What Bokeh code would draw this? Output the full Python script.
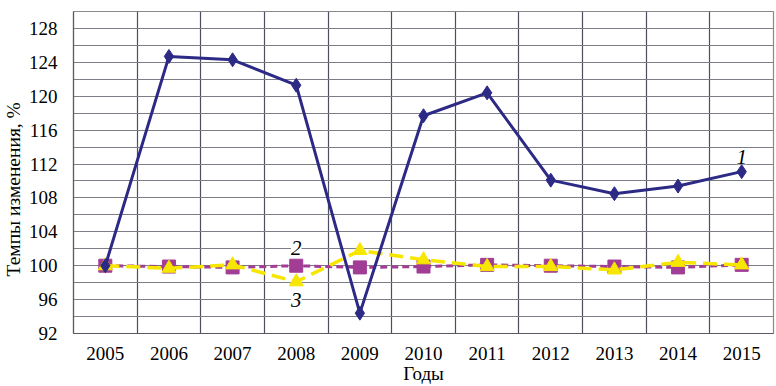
from bokeh.plotting import figure
from bokeh.models import FixedTicker, Label, ColumnDataSource, Title
from bokeh.embed import file_html
from bokeh.resources import INLINE

years = ["2005", "2006", "2007", "2008", "2009", "2010", "2011", "2012", "2013", "2014", "2015"]
series1 = [100.0, 124.7, 124.3, 121.3, 94.4, 117.7, 120.4, 110.1, 108.5, 109.4, 111.1]
series2 = [100.0, 99.9, 99.8, 100.0, 99.8, 99.9, 100.1, 100.0, 99.9, 99.8, 100.1]
series3 = [100.0, 99.7, 100.1, 98.1, 101.8, 100.7, 99.9, 99.9, 99.5, 100.4, 100.1]
y_ticks = [92, 96, 100, 104, 108, 112, 116, 120, 124, 128]
y_grid = list(range(92, 131, 2))
series_labels = ["1", "2", "3"]
label_years = ["2015", "2008", "2008"]
label_values = [112.8, 102.1, 96.0]
x_title = "Годы"
y_title = "Темпы изменения, %"

FONT = "Liberation Serif"
xs = list(range(len(years)))

p = figure(width=776, height=386, output_backend="svg", toolbar_location=None,
           x_range=(-0.5, len(years) - 0.5), y_range=(92, 130),
           min_border_left=68, min_border_right=3, min_border_top=11, min_border_bottom=52)
p.background_fill_color = "white"
p.outline_line_color = "#8a8a8a"
p.outline_line_width = 1.2

# grids
p.xgrid.ticker = FixedTicker(ticks=[i - 0.5 for i in range(len(years) + 1)])
p.xgrid.grid_line_color = "#4e4e60"
p.xgrid.grid_line_width = 1.2
p.ygrid.ticker = FixedTicker(ticks=y_grid)
p.ygrid.grid_line_color = "#7d7d85"
p.ygrid.grid_line_width = 1.2

# axes
p.xaxis.ticker = FixedTicker(ticks=xs)
p.xaxis.major_label_overrides = {i: y for i, y in enumerate(years)}
p.xaxis.major_tick_line_color = None
p.xaxis.minor_tick_line_color = None
p.xaxis.axis_line_color = "#5a5a66"
p.xaxis.axis_line_width = 1.2
p.yaxis.ticker = FixedTicker(ticks=y_ticks)
p.yaxis.minor_tick_line_color = None
p.yaxis.major_tick_line_color = None
p.yaxis.axis_line_color = "#5a5a66"
p.yaxis.axis_line_width = 1.2
for ax in (p.xaxis[0], p.yaxis[0]):
    ax.major_label_text_font = FONT
    ax.major_label_text_font_size = "19px"
    ax.major_label_text_color = "black"
p.xaxis.major_label_standoff = 7
p.yaxis.major_label_standoff = 10
p.xaxis.axis_label = x_title
p.xaxis.axis_label_standoff = 0
p.xaxis.axis_label_text_font = FONT
p.xaxis.axis_label_text_font_size = "19px"
p.xaxis.axis_label_text_font_style = "normal"
p.xaxis.axis_label_text_color = "black"

# vertical axis title, shifted down like in the reference
p.add_layout(Title(text=y_title, align="left", offset=57, vertical_align="middle",
                   standoff=2, text_font=FONT, text_font_size="19.5px",
                   text_font_style="normal", text_color="black"), "left")

src = ColumnDataSource(dict(x=xs, s1=series1, s2=series2, s3=series3))

purple = "#a23d96"
yellow = "#f7e600"
navy = "#2d2a86"

p.line("x", "s2", source=src, line_color=purple, line_width=3, line_dash="7 4")
p.scatter("x", "s2", source=src, marker="square", size=13, fill_color=purple, line_color=purple)
p.line("x", "s3", source=src, line_color=yellow, line_width=3.5, line_dash="14 7")
p.scatter("x", "s3", source=src, marker="triangle", size=14, fill_color=yellow, line_color=yellow)
p.line("x", "s1", source=src, line_color=navy, line_width=3)
p.scatter("x", "s1", source=src, marker="diamond", size=14, fill_color=navy, line_color=navy)

for t, yr, v in zip(series_labels, label_years, label_values):
    p.add_layout(Label(x=years.index(yr), y=v, text=t, text_font=FONT, text_font_size="21px",
                       text_font_style="italic", text_align="center", text_baseline="middle",
                       background_fill_color="white", text_color="black"))

open("out.html", "w").write(file_html(p, INLINE))
